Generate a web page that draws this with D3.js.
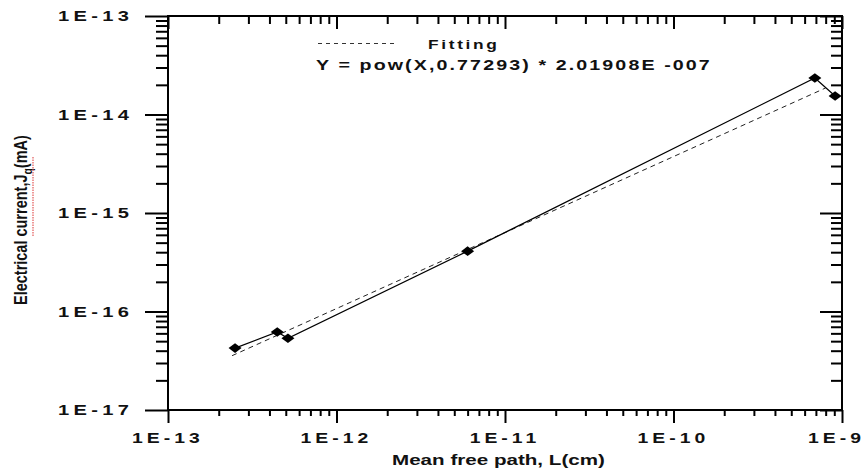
<!DOCTYPE html>
<html><head><meta charset="utf-8">
<script src="https://cdn.jsdelivr.net/npm/d3@7"></script>
<style>
body{margin:0;background:#fff}
svg{display:block}
text{font-family:"Liberation Sans",Arial,sans-serif;font-weight:bold;fill:#111}
</style>
</head><body>
<svg id="c" width="868" height="475"></svg>
<script>
// ---- data ----
const pathLength = [2.5e-13, 4.45e-13, 5.15e-13, 6.0e-12, 6.9e-10, 9.1e-10];
const current    = [4.25e-17, 6.2e-17, 5.35e-17, 4.1e-16, 2.35e-14, 1.54e-14];
const fitPathLength = [2.4e-13, 8.0e-10];
const fitCurrent    = [3.56e-17, 1.86e-14];
const xTickValues = [1e-13, 1e-12, 1e-11, 1e-10, 1e-9];
const xTickLabels = ["1E-13", "1E-12", "1E-11", "1E-10", "1E-9"];
const yTickValues = [1e-17, 1e-16, 1e-15, 1e-14, 1e-13];
const yTickLabels = ["1E-17", "1E-16", "1E-15", "1E-14", "1E-13"];
const legendLabel = "Fitting";
const equationText = "Y = pow(X,0.77293) * 2.01908E -007";
const xTitle = "Mean free path, L(cm)";
const yTitleMain = "Electrical current,J";
const yTitleSub = "q";
const yTitleUnit = "(mA)";

const svg = d3.select("#c");
const x = d3.scaleLog().domain([1e-13, 1e-9]).range([168, 842]);
const y = d3.scaleLog().domain([1e-17, 1e-13]).range([410, 16]);

function minorTicks(dom) {
  const out = [];
  const e0 = Math.round(Math.log10(dom[0])), e1 = Math.round(Math.log10(dom[1]));
  for (let e = e0; e < e1; e++) for (let k = 2; k <= 9; k++) out.push(k * Math.pow(10, e));
  return out;
}
const xMinor = minorTicks(x.domain());
const yMinor = minorTicks(y.domain());

function drawAxis(gen, vals, size, tr, w) {
  const g = svg.append("g").attr("transform", tr)
    .call(gen.tickValues(vals).tickSize(size).tickSizeOuter(0).tickFormat(""));
  g.select(".domain").remove();
  g.selectAll("line").attr("stroke", "#000").attr("stroke-width", w);
}
drawAxis(d3.axisLeft(y), yTickValues, 23, "translate(168,0)", 2);
drawAxis(d3.axisLeft(y), yMinor, 12, "translate(168,0)", 2);
drawAxis(d3.axisBottom(x), xTickValues, 13, "translate(0,410)", 2);
drawAxis(d3.axisBottom(x), xMinor, 6, "translate(0,410)", 2);
drawAxis(d3.axisBottom(x), xTickValues, 13, "translate(0,16)", 2);
drawAxis(d3.axisBottom(x), xMinor, 8, "translate(0,16)", 2);
drawAxis(d3.axisLeft(y), yTickValues, 22, "translate(842,0)", 2);
drawAxis(d3.axisLeft(y), yMinor, 11, "translate(842,0)", 2);

const [xl, xr] = x.range(), [yb, yt] = y.range();
svg.append("path")
  .attr("d", `M${xl},${yt}L${xr},${yt}L${xr},${yb}L${xl},${yb}Z`)
  .attr("fill", "none").attr("stroke", "#000").attr("stroke-width", 2);

function stretchText(txt, size, ls) {
  const g = svg.append("g");
  const t = g.append("text").style("font-size", size + "px").style("letter-spacing", ls + "px").text(txt);
  const w = t.node().getComputedTextLength() - ls;
  return {g, t, w};
}
function spacedLabel(txt, size, ls) {
  // letter-spacing done with per-character dx so there is no trailing space
  const g = svg.append("g");
  const t = g.append("text").style("font-size", size + "px");
  t.text(txt);
  const n = txt.length;
  t.attr("dx", Array.from({length: n}, (_, i) => i === 0 ? 0 : ls).join(" "));
  const w = t.node().getComputedTextLength() + ls * (n - 1);
  return {g, t, w};
}
const refT = spacedLabel("1E-13", 14, 3);
const xSx = 66 / refT.w, ySx = 71 / refT.w;
refT.g.remove();
xTickValues.forEach((v, i) => {
  const s = spacedLabel(xTickLabels[i], 14.5, 3);
  const left = Math.min(x(v) - 2 - s.w * xSx / 2, 861 - s.w * xSx);
  s.g.attr("transform", `translate(${left},443) scale(${xSx},1)`);
});
yTickValues.forEach((v, i) => {
  const s = spacedLabel(yTickLabels[i], 14, 3);
  s.g.attr("transform", `translate(${129 - s.w * ySx},${y(v) + 5}) scale(${ySx},1)`);
});

{
  const s = stretchText(xTitle, 14, 0);
  const sx = 213 / s.w;
  s.g.attr("transform", `translate(392,465) scale(${sx},1)`);
}
{
  const g = svg.append("g");
  const t = g.append("text").style("font-size", "14px");
  t.append("tspan").text(yTitleMain);
  t.append("tspan").attr("dy", 4).style("font-size", "10px").text(yTitleSub);
  t.append("tspan").attr("dy", -4).text(yTitleUnit);
  const w = t.node().getComputedTextLength();
  const sl = 170 / w;
  g.attr("transform", `translate(27,305) rotate(-90) scale(${sl},1.3)`);
  svg.append("line").attr("x1", 33).attr("x2", 33).attr("y1", 157).attr("y2", 237)
    .attr("stroke", "#e87878").attr("stroke-width", 1.5).attr("stroke-dasharray", "1.5,1");
}

svg.append("line").attr("x1", 318).attr("x2", 398).attr("y1", 43.5).attr("y2", 43.5)
  .attr("stroke", "#333").attr("stroke-width", 1).attr("stroke-dasharray", "4,4");
{
  const s = spacedLabel(legendLabel, 13, 2);
  const sx = 69 / s.w;
  s.g.attr("transform", `translate(428,48.5) scale(${sx},1)`);
}
{
  const s = stretchText(equationText, 14, 1.5);
  const sx = 394 / s.w;
  s.g.attr("transform", `translate(316,70) scale(${sx},1)`);
}

const fitData = fitPathLength.map((v, i) => [v, fitCurrent[i]]);
svg.append("path").datum(fitData)
  .attr("d", d3.line().x(d => x(d[0])).y(d => y(d[1])))
  .attr("fill", "none").attr("stroke", "#222").attr("stroke-width", 1).attr("stroke-dasharray", "5,4");

const data = pathLength.map((v, i) => [v, current[i]]);
svg.append("path").datum(data)
  .attr("d", d3.line().x(d => x(d[0])).y(d => y(d[1])))
  .attr("fill", "none").attr("stroke", "#000").attr("stroke-width", 1.2);
svg.selectAll("path.mk").data(data).enter().append("path").attr("class", "mk")
  .attr("d", "M-6.5,0L0,-4.8L6.5,0L0,4.8Z")
  .attr("transform", d => `translate(${x(d[0])},${y(d[1])})`)
  .attr("fill", "#000");
</script>
</body></html>
